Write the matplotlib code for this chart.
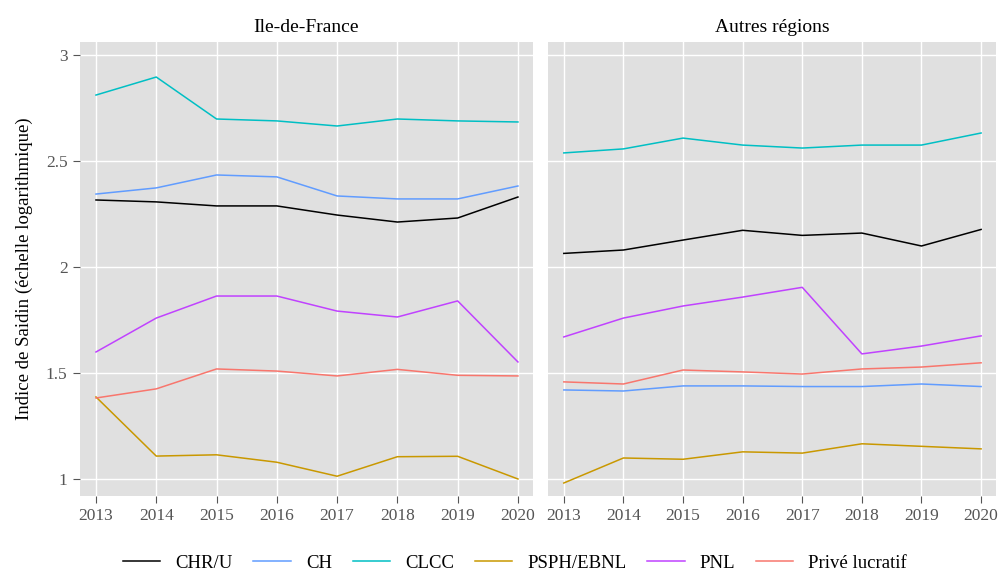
import matplotlib.pyplot as plt

plt.rcParams['font.family'] = ['Liberation Serif', 'DejaVu Serif']

annees = [2013, 2014, 2015, 2016, 2017, 2018, 2019, 2020]
categories = ["CHR/U", "CH", "CLCC", "PSPH/EBNL", "PNL", "Privé lucratif"]
couleurs = ["#000000", "#619CFF", "#00BFC4", "#C99800", "#C042FF", "#F8766D"]

# Ile-de-France
idf_chru = [2.316, 2.307, 2.288, 2.288, 2.245, 2.212, 2.231, 2.330]
idf_ch = [2.344, 2.373, 2.434, 2.425, 2.335, 2.321, 2.321, 2.382]
idf_clcc = [2.811, 2.896, 2.698, 2.689, 2.665, 2.698, 2.689, 2.684]
idf_psph = [1.387, 1.108, 1.114, 1.079, 1.013, 1.105, 1.107, 1.000]
idf_pnl = [1.599, 1.759, 1.863, 1.863, 1.792, 1.764, 1.840, 1.552]
idf_prive = [1.382, 1.425, 1.519, 1.509, 1.486, 1.517, 1.489, 1.486]

# Autres régions
reg_chru = [2.064, 2.080, 2.127, 2.173, 2.149, 2.160, 2.099, 2.177]
reg_ch = [1.420, 1.415, 1.439, 1.439, 1.436, 1.436, 1.448, 1.436]
reg_clcc = [2.538, 2.557, 2.608, 2.575, 2.561, 2.575, 2.575, 2.632]
reg_psph = [0.981, 1.099, 1.093, 1.128, 1.122, 1.166, 1.154, 1.142]
reg_pnl = [1.670, 1.759, 1.816, 1.858, 1.904, 1.590, 1.627, 1.675]
reg_prive = [1.458, 1.448, 1.514, 1.505, 1.495, 1.519, 1.528, 1.548]

panneaux = [
    ("Ile-de-France", [idf_chru, idf_ch, idf_clcc, idf_psph, idf_pnl, idf_prive]),
    ("Autres régions", [reg_chru, reg_ch, reg_clcc, reg_psph, reg_pnl, reg_prive]),
]

fig = plt.figure(figsize=(10, 5.76), dpi=100)
ax1 = fig.add_axes([0.080, 0.139, 0.453, 0.788])
ax2 = fig.add_axes([0.548, 0.139, 0.448, 0.788])

for ax, (titre, series) in zip([ax1, ax2], panneaux):
    ax.set_facecolor("#E0E0E0")
    ax.grid(True, color="white", linewidth=1.0)
    ax.set_axisbelow(True)
    for s in ax.spines.values():
        s.set_visible(False)
    for nom, vals, c in zip(categories, series, couleurs):
        ax.plot(annees, vals, color=c, linewidth=1.1, label=nom)
    ax.set_xlim(2012.735, 2020.25)
    ax.set_ylim(0.92, 3.061)
    ax.set_xticks(annees)
    ax.set_yticks([1, 1.5, 2, 2.5, 3])
    ax.set_yticklabels(["1", "1.5", "2", "2.5", "3"])
    ax.tick_params(colors="#555555", labelsize=12.5, length=5, width=0.8,
                   labelcolor="#555555", pad=4)
    ax.set_title(titre, fontsize=14, pad=7)

ax2.tick_params(axis="y", left=False, labelleft=False)
ax1.set_ylabel("Indice de Saidin (échelle logarithmique)", fontsize=13.5, labelpad=9)

handles, labels = ax1.get_legend_handles_labels()
fig.legend(handles, labels, loc="lower center", bbox_to_anchor=(0.515, -0.022),
           ncol=6, frameon=False, fontsize=13.5, handlelength=2.0,
           columnspacing=1.1, handletextpad=0.8)

fig.savefig("out.png", dpi=100)
